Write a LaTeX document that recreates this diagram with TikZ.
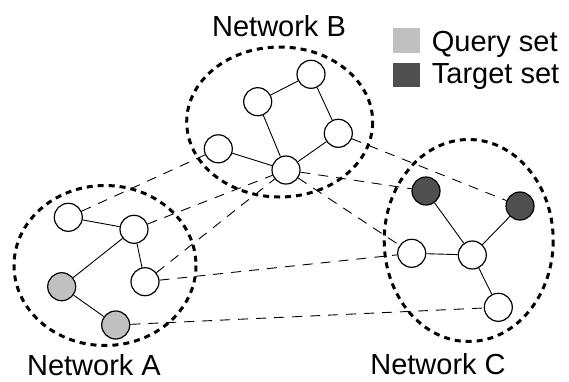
\documentclass[tikz,border=0pt]{standalone}
\usepackage{fontspec}
\setmainfont{Liberation Sans}
\begin{document}
\begin{tikzpicture}[x=1pt,y=-1pt,
  vertex/.style={circle,draw=black,line width=1.2pt,fill=white,minimum size=28pt,inner sep=0pt},
  query/.style={vertex,fill=qgray},
  target/.style={vertex,fill=tgray},
  intra/.style={line width=0.9pt},
  inter/.style={line width=0.9pt,dash pattern=on 10pt off 8pt},
  group/.style={line width=3pt,dash pattern=on 6pt off 5pt},
  label/.style={font=\fontsize{29}{30}\selectfont,inner sep=0pt,anchor=base}]
\definecolor{qgray}{HTML}{C0C0C0}
\definecolor{tgray}{HTML}{505050}
\useasboundingbox (0,0) rectangle (569,381);

% Network A
\node[vertex] (a1) at (68.3,217.3) {};
\node[vertex] (a2) at (134,229.3) {};
\node[vertex] (a3) at (145,281.7) {};
\node[query]  (a4) at (61.7,286.7) {};
\node[query]  (a5) at (115.7,325) {};

% Network B
\node[vertex] (b1) at (218.3,148.8) {};
\node[vertex] (b2) at (257.7,101.7) {};
\node[vertex] (b3) at (311,74.3) {};
\node[vertex] (b4) at (338.3,133.3) {};
\node[vertex] (b5) at (286,170) {};

% Network C
\node[target] (c1) at (426,191) {};
\node[target] (c2) at (520,206) {};
\node[vertex] (c3) at (411.7,253.3) {};
\node[vertex] (c4) at (472.3,255) {};
\node[vertex] (c5) at (498.3,307.3) {};

% edges inside each network
\draw[intra] (a1) -- (a2);
\draw[intra] (a2) -- (a4);
\draw[intra] (a2) -- (a3);
\draw[intra] (a4) -- (a5);
\draw[intra] (b1) -- (b5);
\draw[intra] (b2) -- (b5);
\draw[intra] (b2) -- (b3);
\draw[intra] (b3) -- (b4);
\draw[intra] (b4) -- (b5);
\draw[intra] (c1) -- (c4);
\draw[intra] (c2) -- (c4);
\draw[intra] (c3) -- (c4);
\draw[intra] (c4) -- (c5);

% edges between networks
\draw[inter] (a1) -- (b1);
\draw[inter] (a2) -- (b5);
\draw[inter] (a3) -- (b5);
\draw[inter] (a3) -- (c3);
\draw[inter] (a5) -- (c5);
\draw[inter] (b5) -- (c1);
\draw[inter] (b5) -- (c3);
\draw[inter] (b4) -- (c2);

% network boundaries
\draw[group] (105,265.5) ellipse [x radius=91, y radius=80];
\draw[group] (279.7,122) ellipse [x radius=93, y radius=75];
\draw[group] (468.7,240.5) ellipse [x radius=84.5, y radius=101];

% network labels
\node[label] (la) at (94,375.5) {Network A};
\node[label] (lb) at (279,36.7) {Network B};
\node[label] (lc) at (438,374.5) {Network C};

% legend
\node[draw=none,fill=qgray,minimum width=27pt,minimum height=25pt,inner sep=0pt] (kq) at (406.7,40.8) {};
\node[draw=none,fill=tgray,minimum width=27pt,minimum height=24pt,inner sep=0pt] (kt) at (406.7,75) {};
\node[label,anchor=base west] (tq) at (431.7,51.7) {Query set};
\node[label,anchor=base west] (tt) at (431.7,83.3) {Target set};
\end{tikzpicture}
\end{document}
